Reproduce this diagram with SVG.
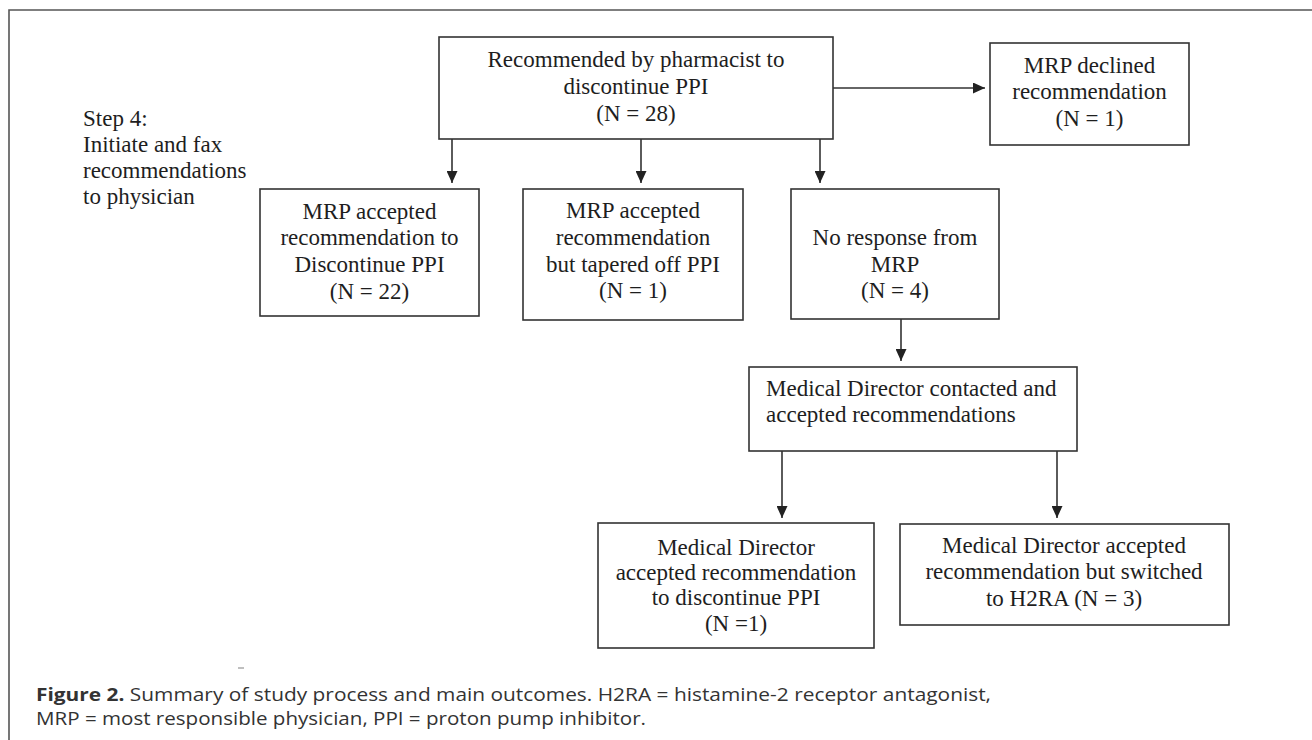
<svg xmlns="http://www.w3.org/2000/svg" width="1312" height="740" viewBox="0 0 1312 740">
<style>
.box{fill:#fff;stroke:#333;stroke-width:1.6}
.t{font-family:"Liberation Serif","Times New Roman",serif;font-size:23px;fill:#1e1e1e}
.c{text-anchor:middle}
.conn{stroke:#333;stroke-width:1.6;fill:none}
.cap{font-family:"Open Sans","Noto Sans","Liberation Sans",sans-serif;font-size:18.5px;fill:#333}
</style>
<defs>
<marker id="ah" viewBox="0 0 12 11" refX="12" refY="5.5" markerWidth="12" markerHeight="11" markerUnits="userSpaceOnUse" orient="auto">
<path d="M0,0 L12,5.5 L0,11 z" fill="#222"/>
</marker>
</defs>
<rect width="1312" height="740" fill="#fff"/>
<path d="M9,740 V10 H1312" fill="none" stroke="#555" stroke-width="1.6"/>

<g id="step4">
<text class="t" x="83" y="126">Step 4:</text>
<text class="t" x="83" y="152">Initiate and fax</text>
<text class="t" x="83" y="178">recommendations</text>
<text class="t" x="83" y="204">to physician</text>
</g>

<g id="n-recommended">
<rect class="box" x="439" y="37" width="394" height="102"/>
<text class="t c" x="636" y="67">Recommended by pharmacist to</text>
<text class="t c" x="636" y="94">discontinue PPI</text>
<text class="t c" x="636" y="121">(N = 28)</text>
</g>

<g id="n-declined">
<rect class="box" x="990" y="43" width="199" height="102"/>
<text class="t c" x="1089.5" y="73">MRP declined</text>
<text class="t c" x="1089.5" y="99">recommendation</text>
<text class="t c" x="1089.5" y="126">(N = 1)</text>
</g>

<g id="n-accepted">
<rect class="box" x="260" y="189" width="219" height="127"/>
<text class="t c" x="369.5" y="219">MRP accepted</text>
<text class="t c" x="369.5" y="245">recommendation to</text>
<text class="t c" x="369.5" y="272">Discontinue PPI</text>
<text class="t c" x="369.5" y="299">(N = 22)</text>
</g>

<g id="n-tapered">
<rect class="box" x="523" y="189" width="220" height="131"/>
<text class="t c" x="633" y="218">MRP accepted</text>
<text class="t c" x="633" y="245">recommendation</text>
<text class="t c" x="633" y="272">but tapered off PPI</text>
<text class="t c" x="633" y="298">(N = 1)</text>
</g>

<g id="n-noresponse">
<rect class="box" x="791" y="189" width="208" height="130"/>
<text class="t c" x="895" y="245">No response from</text>
<text class="t c" x="895" y="272">MRP</text>
<text class="t c" x="895" y="298">(N = 4)</text>
</g>

<g id="n-meddir">
<rect class="box" x="749" y="367" width="328" height="84"/>
<text class="t" x="766" y="396">Medical Director contacted and</text>
<text class="t" x="766" y="422">accepted recommendations</text>
</g>

<g id="n-md-discontinue">
<rect class="box" x="598" y="523" width="276" height="125"/>
<text class="t c" x="736" y="555">Medical Director</text>
<text class="t c" x="736" y="580">accepted recommendation</text>
<text class="t c" x="736" y="605">to discontinue PPI</text>
<text class="t c" x="736" y="631">(N =1)</text>
</g>

<g id="n-md-h2ra">
<rect class="box" x="900" y="524" width="329" height="101"/>
<text class="t c" x="1064" y="553">Medical Director accepted</text>
<text class="t c" x="1064" y="579">recommendation but switched</text>
<text class="t c" x="1064" y="606">to H2RA (N = 3)</text>
</g>

<g id="connectors">
<line class="conn" x1="833" y1="88" x2="985" y2="88" marker-end="url(#ah)"/>
<line class="conn" x1="452" y1="139" x2="452" y2="183" marker-end="url(#ah)"/>
<line class="conn" x1="641" y1="139" x2="641" y2="183" marker-end="url(#ah)"/>
<line class="conn" x1="820" y1="139" x2="820" y2="183" marker-end="url(#ah)"/>
<line class="conn" x1="901" y1="319" x2="901" y2="361" marker-end="url(#ah)"/>
<line class="conn" x1="782" y1="451" x2="782" y2="518" marker-end="url(#ah)"/>
<line class="conn" x1="1057" y1="451" x2="1057" y2="518" marker-end="url(#ah)"/>
</g>

<line x1="238" y1="668" x2="244" y2="668" stroke="#aaa" stroke-width="1.5"/>

<g id="caption">
<text class="cap" x="36" y="701" textLength="955" lengthAdjust="spacingAndGlyphs"><tspan font-weight="bold">Figure 2.</tspan> Summary of study process and main outcomes. H2RA = histamine-2 receptor antagonist,</text>
<text class="cap" x="36" y="725" textLength="610" lengthAdjust="spacingAndGlyphs">MRP = most responsible physician, PPI = proton pump inhibitor.</text>
</g>
</svg>
